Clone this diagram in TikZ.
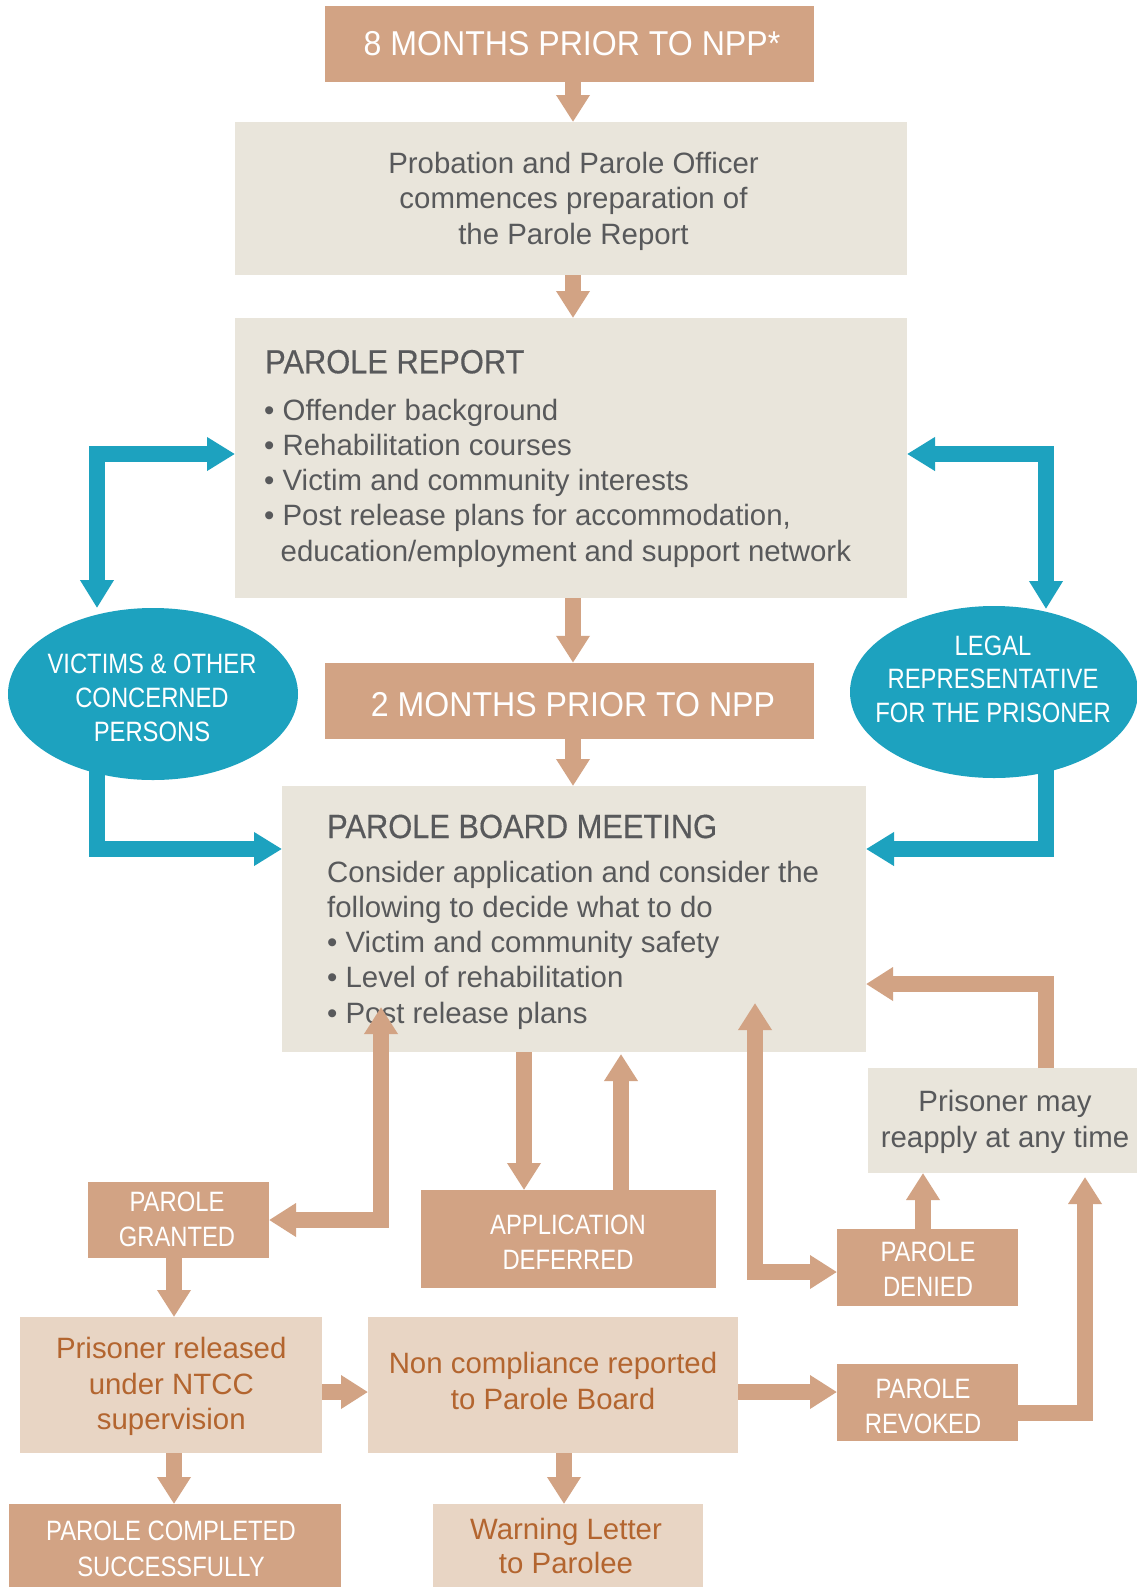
\documentclass[tikz,border=0pt]{standalone}
\usepackage{fontspec}
\setmainfont{Liberation Sans}
\newfontfamily\cond[FakeStretch=0.85]{Liberation Sans}
\newfontfamily\condb[FakeStretch=0.93]{Liberation Sans}
\newfontfamily\condt[FakeStretch=0.92,FakeBold=0.4]{Liberation Sans}
\usetikzlibrary{arrows.meta,shapes.geometric}
\definecolor{tanc}{HTML}{D2A384}
\definecolor{beigec}{HTML}{E9E5DB}
\definecolor{ltc}{HTML}{E8D5C4}
\definecolor{tealc}{HTML}{1DA2BF}
\definecolor{grayc}{HTML}{58595B}
\definecolor{brownc}{HTML}{B3652F}
\newcommand\fst{\rule{0pt}{1em}}
\tikzset{
  tanbox/.style={fill=tanc, inner sep=0pt, outer sep=0pt},
  beigebox/.style={fill=beigec, inner sep=0pt, outer sep=0pt},
  ltbox/.style={fill=ltc, inner sep=0pt, outer sep=0pt},
  bubble/.style={ellipse, fill=tealc, inner sep=0pt, outer sep=0pt},
  bigcap/.style={text=white, font=\condb\fontsize{34.5}{40}\selectfont, inner sep=0pt},
  lbl/.style={text=white, font=\cond\fontsize{28}{35}\selectfont, align=center, inner sep=0pt},
  ttl/.style={text=grayc, font=\condt\fontsize{33.5}{40}\selectfont, inner sep=0pt},
  body/.style={text=grayc, font=\fontsize{29.4}{35.2}\selectfont, inner sep=0pt},
  brown/.style={text=brownc, font=\fontsize{29.4}{35.6}\selectfont, inner sep=0pt, align=center},
  tarr/.style={draw=tanc, line width=16pt, line join=miter, -{Triangle[width=32pt,length=27pt]}},
  tdbl/.style={draw=tanc, line width=16pt, line join=miter, {Triangle[width=32pt,length=27pt]}-{Triangle[width=32pt,length=27pt]}},
  carr/.style={draw=tealc, line width=16pt, line join=miter, -{Triangle[width=32pt,length=28pt]}},
  cdbl/.style={draw=tealc, line width=16pt, line join=miter, {Triangle[width=32pt,length=28pt]}-{Triangle[width=32pt,length=28pt]}}
}
\begin{document}
\begin{tikzpicture}[x=1pt,y=-1pt]
\fill[white] (0,0) rectangle (1137,1587);
\useasboundingbox (0,0) rectangle (1137,1587);

% boxes
\node[tanbox, minimum width=489pt, minimum height=76pt] (t1) at (569.5,44) {};
\node[beigebox, minimum width=672pt, minimum height=153pt] (prep) at (571,198.5) {};
\node[beigebox, minimum width=672pt, minimum height=280pt] (report) at (571,458) {};
\node[tanbox, minimum width=489pt, minimum height=76.5pt] (t2) at (569.5,701) {};
\node[beigebox, minimum width=584pt, minimum height=266pt] (board) at (574,919) {};
\node[bubble, minimum width=290pt, minimum height=172pt] (vic) at (153,694) {};
\node[bubble, minimum width=288pt, minimum height=172pt] (legal) at (994,692) {};
\node[tanbox, minimum width=181pt, minimum height=76pt] (granted) at (178.5,1220) {};
\node[tanbox, minimum width=295pt, minimum height=98pt] (deferred) at (568.5,1239) {};
\node[tanbox, minimum width=181pt, minimum height=77pt] (denied) at (927.5,1267.5) {};
\node[beigebox, minimum width=269pt, minimum height=105pt] (reapply) at (1002.5,1120.5) {};
\node[ltbox, minimum width=302pt, minimum height=136pt] (release) at (171,1385) {};
\node[ltbox, minimum width=370pt, minimum height=136pt] (noncomp) at (553,1385) {};
\node[tanbox, minimum width=181pt, minimum height=77pt] (revoked) at (927.5,1402.5) {};
\node[tanbox, minimum width=332pt, minimum height=83pt] (completed) at (175,1545.5) {};
\node[ltbox, minimum width=270pt, minimum height=83pt] (warning) at (568,1545.5) {};

% texts
\node[bigcap, anchor=base] (t1t) at (572,56) {8 MONTHS PRIOR TO NPP*};
\node[body, anchor=north, align=center] (prept) at (573.5,144.1)
  {\fst Probation and Parole Officer\\commences preparation of\\the Parole Report};
\node[ttl, anchor=base west] (reportttl) at (265,373.3) {PAROLE REPORT};
\node[body, anchor=north west, align=left] (reportt) at (264,390.6)
  {\fst• Offender background\\• Rehabilitation courses\\• Victim and community interests\\• Post release plans for accommodation,\\\hspace*{16.5pt}education/employment and support network};
\node[bigcap, anchor=base] (t2t) at (573,716.7) {2 MONTHS PRIOR TO NPP};
\node[ttl, anchor=base west] (boardttl) at (327,838) {PAROLE BOARD MEETING};
\node[body, anchor=north west, align=left] (boardt) at (327,852.6)
  {\fst Consider application and consider the\\following to decide what to do\\• Victim and community safety\\• Level of rehabilitation\\• Post release plans};
\node[lbl, anchor=north, font=\cond\fontsize{28}{34.3}\selectfont] (vict) at (152,645) {\fst VICTIMS \& OTHER\\CONCERNED\\PERSONS};
\node[lbl, anchor=north, font=\cond\fontsize{28}{33.5}\selectfont] (legalt) at (993,627) {\fst LEGAL\\REPRESENTATIVE\\FOR THE PRISONER};
\node[lbl, anchor=north] (grantedt) at (177,1183.7) {\fst PAROLE\\GRANTED};
\node[lbl, anchor=north] (deferredt) at (568,1206) {\fst APPLICATION\\DEFERRED};
\node[lbl, anchor=north] (deniedt) at (928,1233.7) {\fst PAROLE\\DENIED};
\node[lbl, anchor=north] (revokedt) at (923,1370.3) {\fst PAROLE\\REVOKED};
\node[lbl, anchor=north, font=\cond\fontsize{28}{36}\selectfont] (completedt) at (171,1512.7) {\fst PAROLE COMPLETED\\SUCCESSFULLY};
\node[body, anchor=north, align=center] (reapplyt) at (1005,1082.3) {\fst Prisoner may\\reapply at any time};
\node[brown, anchor=north] (releaset) at (171.3,1328.9) {\fst Prisoner released\\under NTCC\\supervision};
\node[brown, anchor=north, font=\fontsize{29.4}{36}\selectfont] (noncompt) at (553,1343.6) {\fst Non compliance reported\\to Parole Board};
\node[brown, anchor=north, font=\fontsize{29.4}{34}\selectfont] (warningt) at (566,1509.9) {\fst Warning Letter\\to Parolee};

% helper coordinates
\coordinate (mx) at (573,0);
\coordinate (yA) at (0,454);
\coordinate (yB) at (0,849);
\coordinate (vt) at (97,608);
\coordinate (vb) at (97,765);
\coordinate (lt) at (1046,609);
\coordinate (lb) at (1046,765);
\coordinate (g1) at (381,1007);
\coordinate (dx1) at (524,0);
\coordinate (dx2) at (621,0);
\coordinate (d1) at (755,1003);
\coordinate (yD) at (0,1272);
\coordinate (dx3) at (923,0);
\coordinate (rx) at (1046,0);
\coordinate (yR) at (0,984);
\coordinate (yV) at (0,1413);
\coordinate (rv) at (1085,1177);
\coordinate (cx) at (174,0);
\coordinate (yN) at (0,1392);
\coordinate (wx) at (564,0);

% main column arrows
\draw[tarr] (t1.south -| mx) -- (prep.north -| mx);
\draw[tarr] (prep.south -| mx) -- (report.north -| mx);
\draw[tarr] (report.south -| mx) -- (t2.north -| mx);
\draw[tarr] (t2.south -| mx) -- (board.north -| mx);

% teal arrows
\draw[cdbl] (vt) |- (report.west |- yA);
\draw[carr] (vb) |- (board.west |- yB);
\draw[cdbl] (lt) |- (report.east |- yA);
\draw[carr] (lb) |- (board.east |- yB);

% decision arrows
\draw[tdbl] (g1) |- (granted.east);
\draw[tarr] (board.south -| dx1) -- (deferred.north -| dx1);
\draw[tarr] (deferred.north -| dx2) -- ([yshift=-2pt]board.south -| dx2);
\draw[tdbl] (d1) |- (denied.west |- yD);
\draw[tarr] (denied.north -| dx3) -- (reapply.south -| dx3);
\draw[tarr] (reapply.north -| rx) |- (board.east |- yR);
\draw[tarr] (revoked.east |- yV) -| (rv);
\draw[tarr] (granted.south -| cx) -- (release.north -| cx);
\draw[tarr] (release.south -| cx) -- (completed.north -| cx);
\draw[tarr] (release.east |- yN) -- (noncomp.west |- yN);
\draw[tarr] (noncomp.east |- yN) -- (revoked.west |- yN);
\draw[tarr] (noncomp.south -| wx) -- (warning.north -| wx);
\end{tikzpicture}
\end{document}
